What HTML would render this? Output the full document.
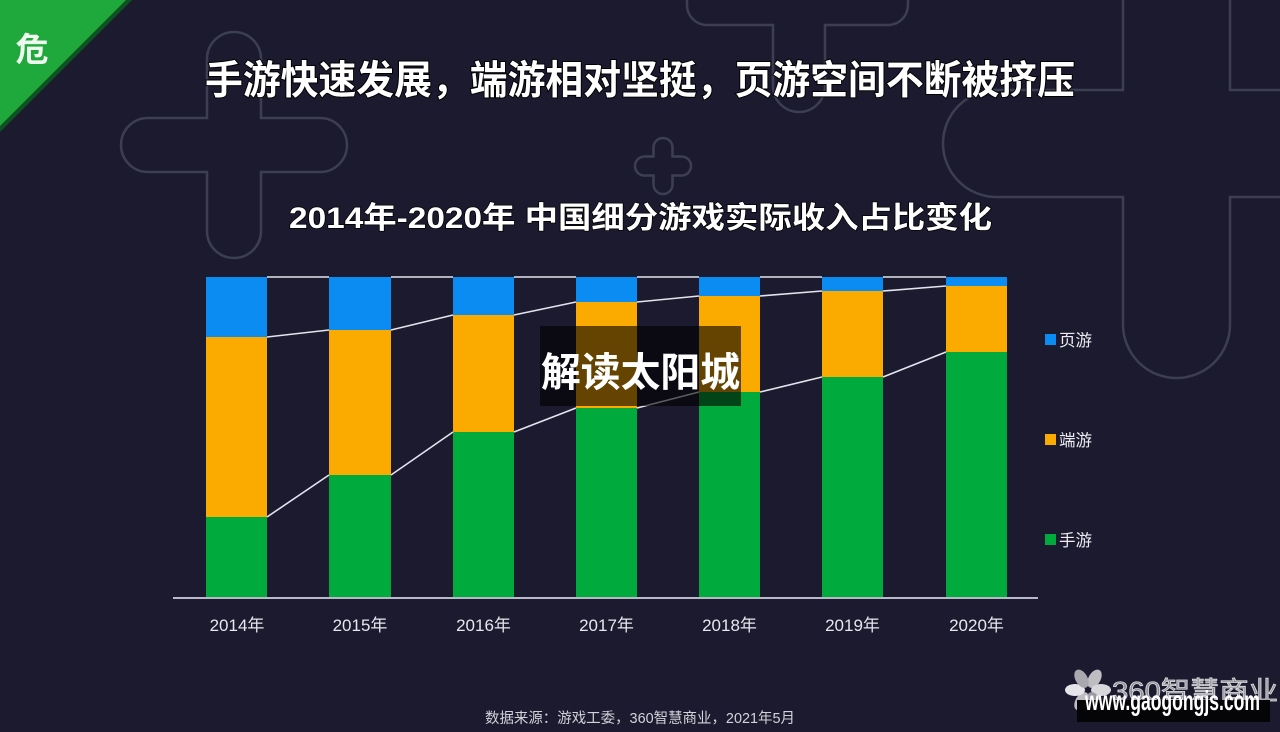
<!DOCTYPE html>
<html>
<head>
<meta charset="utf-8">
<style>
  html, body { margin:0; padding:0; background:#1c1a2e; }
  body { width:1280px; height:732px; overflow:hidden; }
  svg { display:block; }
  .cjk { font-family: "Liberation Sans", "Noto Sans CJK SC", sans-serif; }
</style>
</head>
<body>
<svg width="1280" height="732" viewBox="0 0 1280 732" xmlns="http://www.w3.org/2000/svg">
  <rect x="0" y="0" width="1280" height="732" fill="#1c1a2e"/>

  <!-- decorative outlines -->
  <g fill="none" stroke="#3c3f52" stroke-width="2.5">
    <!-- left big plus -->
    <path d="M207 59 A27 27 0 0 1 261 59 L261 118 L320 118 A27 27 0 0 1 320 172 L261 172 L261 231 A27 27 0 0 1 207 231 L207 172 L148 172 A27 27 0 0 1 148 118 L207 118 Z"/>
    <!-- small plus -->
    <path d="M653.5 147.5 A9.5 9.5 0 0 1 672.5 147.5 L672.5 156.5 L681.5 156.5 A9.5 9.5 0 0 1 681.5 175.5 L672.5 175.5 L672.5 184.5 A9.5 9.5 0 0 1 653.5 184.5 L653.5 175.5 L644.5 175.5 A9.5 9.5 0 0 1 644.5 156.5 L653.5 156.5 Z"/>
    <!-- top center plus (bottom part) -->
    <path d="M687 -10 L687 5 A20 20 0 0 0 707 25 L773 25 L773 86 A26 26 0 0 0 825 86 L825 25 L888 25 A20 20 0 0 0 908 5 L908 -10"/>
    <!-- right big plus -->
    <path d="M1123 -10 L1123 90 L996.5 90 A53.5 53.5 0 0 0 996.5 197 L1123 197 L1123 324.5 A53.5 53.5 0 0 0 1230 324.5 L1230 197 L1290 197"/>
    <path d="M1290 90 L1230 90 L1230 -10"/>
  </g>

  <!-- green corner -->
  <polygon points="0,0 132,0 0,132" fill="#0f5222"/>
  <polygon points="0,0 126,0 0,126" fill="#1fa83c"/>
  <text x="32" y="61" class="cjk" font-size="33" font-weight="700" fill="#eef8ee" text-anchor="middle">危</text>

  <!-- titles -->
  <text x="640" y="94" class="cjk" font-size="39.5" font-weight="700" fill="#ffffff" text-anchor="middle"
        stroke="#000" stroke-width="2" paint-order="stroke" textLength="870" lengthAdjust="spacingAndGlyphs">手游快速发展，端游相对坚挺，页游空间不断被挤压</text>
  <text x="640.5" y="228" class="cjk" font-size="30" font-weight="700" fill="#ffffff" text-anchor="middle"
        stroke="#000" stroke-width="1.5" paint-order="stroke" textLength="703" lengthAdjust="spacingAndGlyphs">2014年-2020年 中国细分游戏实际收入占比变化</text>

  <!-- bars -->
  <g>
    <!-- 2014 -->
    <rect x="206" y="277" width="61" height="60" fill="#0b8cf2"/>
    <rect x="206" y="337" width="61" height="180" fill="#fbaa00"/>
    <rect x="206" y="517" width="61" height="80" fill="#00aa3c"/>
    <!-- 2015 -->
    <rect x="329" y="277" width="62" height="53" fill="#0b8cf2"/>
    <rect x="329" y="330" width="62" height="145" fill="#fbaa00"/>
    <rect x="329" y="475" width="62" height="122" fill="#00aa3c"/>
    <!-- 2016 -->
    <rect x="453" y="277" width="61" height="38" fill="#0b8cf2"/>
    <rect x="453" y="315" width="61" height="117" fill="#fbaa00"/>
    <rect x="453" y="432" width="61" height="165" fill="#00aa3c"/>
    <!-- 2017 -->
    <rect x="576" y="277" width="61" height="25" fill="#0b8cf2"/>
    <rect x="576" y="302" width="61" height="106" fill="#fbaa00"/>
    <rect x="576" y="408" width="61" height="189" fill="#00aa3c"/>
    <!-- 2018 -->
    <rect x="699" y="277" width="61" height="19" fill="#0b8cf2"/>
    <rect x="699" y="296" width="61" height="96" fill="#fbaa00"/>
    <rect x="699" y="392" width="61" height="205" fill="#00aa3c"/>
    <!-- 2019 -->
    <rect x="822" y="277" width="61" height="14" fill="#0b8cf2"/>
    <rect x="822" y="291" width="61" height="86" fill="#fbaa00"/>
    <rect x="822" y="377" width="61" height="220" fill="#00aa3c"/>
    <!-- 2020 -->
    <rect x="946" y="277" width="61" height="9" fill="#0b8cf2"/>
    <rect x="946" y="286" width="61" height="66" fill="#fbaa00"/>
    <rect x="946" y="352" width="61" height="245" fill="#00aa3c"/>
  </g>

  <!-- connector lines -->
  <g stroke="#e4e4ee" stroke-width="1.6" fill="none">
    <line x1="267" y1="277" x2="329" y2="277"/>
    <line x1="391" y1="277" x2="453" y2="277"/>
    <line x1="514" y1="277" x2="576" y2="277"/>
    <line x1="637" y1="277" x2="699" y2="277"/>
    <line x1="760" y1="277" x2="822" y2="277"/>
    <line x1="883" y1="277" x2="946" y2="277"/>

    <line x1="267" y1="337" x2="329" y2="330"/>
    <line x1="391" y1="330" x2="453" y2="315"/>
    <line x1="514" y1="315" x2="576" y2="302"/>
    <line x1="637" y1="302" x2="699" y2="296"/>
    <line x1="760" y1="296" x2="822" y2="291"/>
    <line x1="883" y1="291" x2="946" y2="286"/>

    <line x1="267" y1="517" x2="329" y2="475"/>
    <line x1="391" y1="475" x2="453" y2="432"/>
    <line x1="514" y1="432" x2="576" y2="408"/>
    <line x1="637" y1="408" x2="699" y2="392"/>
    <line x1="760" y1="392" x2="822" y2="377"/>
    <line x1="883" y1="377" x2="946" y2="352"/>
  </g>

  <!-- axis -->
  <line x1="173" y1="598" x2="1038" y2="598" stroke="#b8b8c8" stroke-width="2"/>

  <!-- x labels -->
  <g class="cjk" font-size="17" fill="#e6e6ee" text-anchor="middle">
    <text x="237" y="631">2014年</text>
    <text x="360" y="631">2015年</text>
    <text x="483.5" y="631">2016年</text>
    <text x="606.5" y="631">2017年</text>
    <text x="729.5" y="631">2018年</text>
    <text x="852.5" y="631">2019年</text>
    <text x="976.5" y="631">2020年</text>
  </g>

  <!-- legend -->
  <rect x="1045" y="334" width="11" height="11" fill="#0b8cf2"/>
  <rect x="1045" y="434" width="11" height="11" fill="#fbaa00"/>
  <rect x="1045" y="534" width="11" height="11" fill="#00aa3c"/>
  <g class="cjk" font-size="16.5" fill="#ececf2">
    <text x="1059" y="346">页游</text>
    <text x="1059" y="446">端游</text>
    <text x="1059" y="546">手游</text>
  </g>

  <!-- overlay label -->
  <rect x="540" y="326" width="201" height="80" fill="rgba(0,0,0,0.6)"/>
  <text x="640.5" y="386" class="cjk" font-size="40" font-weight="700" fill="#ffffff" text-anchor="middle" textLength="199" lengthAdjust="spacingAndGlyphs">解读太阳城</text>

  <!-- source -->
  <text x="640" y="723" class="cjk" font-size="14.5" fill="#d2d2da" text-anchor="middle" textLength="310" lengthAdjust="spacingAndGlyphs">数据来源：游戏工委，360智慧商业，2021年5月</text>

  <!-- watermark logo -->
  <g transform="translate(1088,690)" fill="#bdbdc2">
    <ellipse cx="0" cy="-13" rx="6" ry="10" transform="rotate(30)"/>
    <ellipse cx="0" cy="-13" rx="6" ry="10" transform="rotate(90)" fill="#d8d8dc"/>
    <ellipse cx="0" cy="-13" rx="6" ry="10" transform="rotate(150)" fill="#9a9aa0"/>
    <ellipse cx="0" cy="-13" rx="6" ry="10" transform="rotate(210)"/>
    <ellipse cx="0" cy="-13" rx="6" ry="10" transform="rotate(270)" fill="#e6e6ea"/>
    <ellipse cx="0" cy="-13" rx="6" ry="10" transform="rotate(330)" fill="#a8a8ae"/>
  </g>
  <text x="1112" y="700" class="cjk" font-size="26" fill="#8e8e96" stroke="#dcdce0" stroke-width="0.8" textLength="166" lengthAdjust="spacingAndGlyphs">360智慧商业</text>
  <rect x="1077" y="700" width="193" height="22" fill="#050508"/>
  <g transform="translate(1085,710) scale(1,1.6)">
    <text x="0" y="0" font-family="Liberation Sans, sans-serif" font-size="17.5" font-weight="700" fill="#ffffff" textLength="175" lengthAdjust="spacingAndGlyphs">www.gaogongjs.com</text>
  </g>
</svg>
</body>
</html>
